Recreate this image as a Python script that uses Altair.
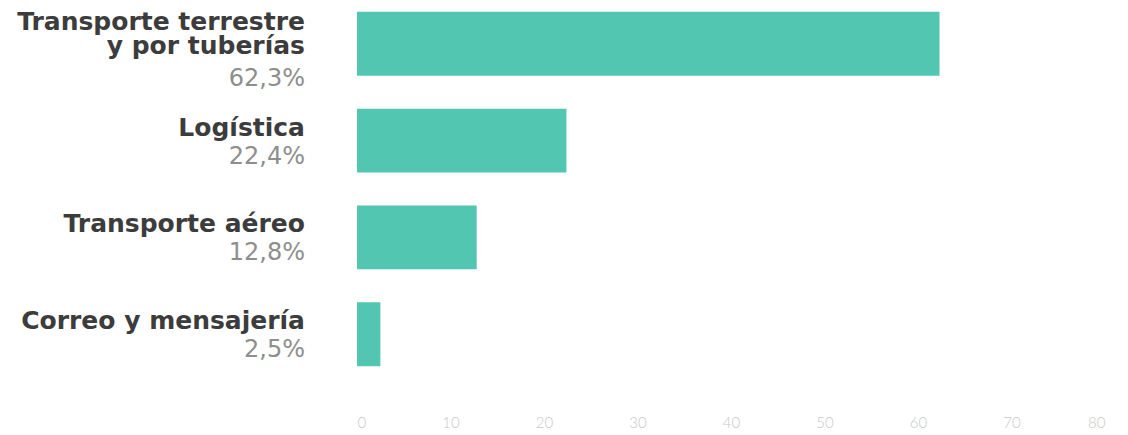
import altair as alt
import pandas as pd

categories = ["Transporte terrestre\ny por tuberías", "Logística", "Transporte aéreo", "Correo y mensajería"]
values = [62.3, 22.4, 12.8, 2.5]
pct_labels = ["62,3%", "22,4%", "12,8%", "2,5%"]
x_ticks = [0, 10, 20, 30, 40, 50, 60, 70, 80]

df = pd.DataFrame({
    "cat": categories,
    "value": values,
    "pct": pct_labels,
})
df["nlines"] = df["cat"].str.count("\n") + 1

order = categories

y_enc = alt.Y("cat:N", sort=order, axis=None,
              scale=alt.Scale(paddingInner=0.34, paddingOuter=0.04))

base = alt.Chart(df)

bars = base.mark_bar(color="#52c6b0").encode(
    x=alt.X("value:Q",
            scale=alt.Scale(domain=[0, 80], nice=False),
            axis=alt.Axis(values=x_ticks, title=None, grid=False, domain=False,
                          ticks=False, labelColor="#c8c8c8", labelFont="Lato",
                          labelFontWeight=300, labelFontSize=15, offset=41,
                          labelPadding=4)),
    y=y_enc,
)

name_style = dict(align="right", baseline="alphabetic", font="DejaVu Sans",
                  fontWeight="bold", fontSize=25, color="#3c3c3c",
                  lineBreak="\n", lineHeight=24)
pct_style = dict(align="right", baseline="alphabetic", font="DejaVu Sans",
                 fontSize=24, color="#8e8e8e")

name1 = base.transform_filter("datum.nlines == 1").mark_text(dy=-5, **name_style).encode(
    x=alt.value(-52), y=y_enc, text="cat:N")
name2 = base.transform_filter("datum.nlines == 2").mark_text(dy=-14, **name_style).encode(
    x=alt.value(-52), y=y_enc, text="cat:N")
pct1 = base.transform_filter("datum.nlines == 1").mark_text(dy=23, **pct_style).encode(
    x=alt.value(-52), y=y_enc, text="pct:N")
pct2 = base.transform_filter("datum.nlines == 2").mark_text(dy=42, **pct_style).encode(
    x=alt.value(-52), y=y_enc, text="pct:N")

chart = alt.layer(bars, name1, name2, pct1, pct2).properties(
    width=748, height=362,
    background="white",
    autosize=alt.AutoSizeParams(type="none"),
    padding={"left": 349, "top": 0, "right": 15, "bottom": 62},
).configure_view(stroke=None, strokeWidth=0)

chart.save("out.html", embed_options={"renderer": "svg", "actions": False})
